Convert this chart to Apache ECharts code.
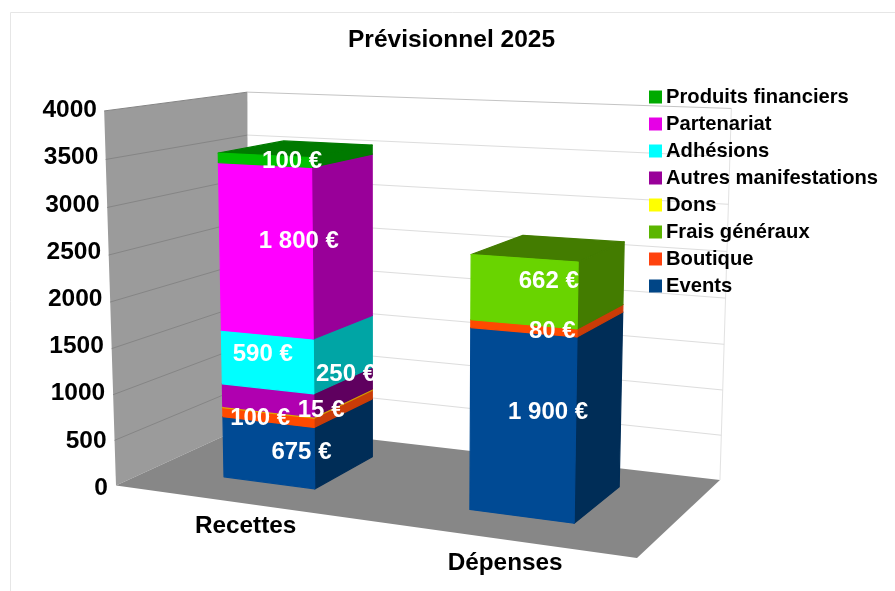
<!DOCTYPE html>
<html>
<head>
<meta charset="utf-8">
<style>
  html, body { margin: 0; padding: 0; background: #fff; }
  #chart { width: 895px; height: 591px; }
</style>
<script src="https://cdn.jsdelivr.net/npm/echarts@6/dist/echarts.min.js"></script>
</head>
<body>
<div id="chart"></div>
<script>
const categories = ["Recettes", "Dépenses"];
const yTicks = [0, 500, 1000, 1500, 2000, 2500, 3000, 3500, 4000];

const eventsValues = [675, 1900];
const boutiqueValues = [100, 80];
const fraisValues = [0, 662];
const donsValues = [15, 0];
const autresValues = [250, 0];
const adhesionsValues = [590, 0];
const partenariatValues = [1800, 0];
const produitsValues = [100, 0];

// bottom to top, as stacked
const stacks = [
  { name: "Events", values: eventsValues, legend: "#004586", front: "#004a94", side: "#002d57", nudge: [[1, 15.5], [0, 3.5]] },
  { name: "Boutique", values: boutiqueValues, legend: "#ff420e", front: "#ff4a00", side: "#c93c08", nudge: [[-40, 15.5], [3, 16.5]] },
  { name: "Frais généraux", values: fraisValues, legend: "#5bb500", front: "#69d400", side: "#437c00", nudge: [[0, 0], [-1, 2]] },
  { name: "Dons", values: donsValues, legend: "#ffff00", front: "#e0a800", side: "#d09a00", nudge: [[21, 12.5], [0, 0]] },
  { name: "Autres manifestations", values: autresValues, legend: "#990099", front: "#b000b0", side: "#5f005f", nudge: [[46, -12], [0, 0]] },
  { name: "Adhésions", values: adhesionsValues, legend: "#00ffff", front: "#00ffff", side: "#00a5a5", nudge: [[-37, 6], [0, 0]] },
  { name: "Partenariat", values: partenariatValues, legend: "#e600e6", front: "#ff00ff", side: "#990099", nudge: [[0, 1], [0, 0]] },
  { name: "Produits financiers", values: produitsValues, legend: "#00aa00", front: "#00c000", side: "#007a00", nudge: [[-6, 8], [0, 0]] },
];

const fontFamily = "Liberation Sans";
const barShare = 0.385; // of the category band
const barDepth = [0.27, 0.76];

// u along the front edge, d into the depth, v up the wall, all 0..1
const project = (u, d, v) => {
  const w = -0.1345 * u + 0.1275 * d - 0.04 * v + 1;
  // small corrections on top of the perspective, fitted by eye
  const xFix = 5 * d * v * (1 - u) * (1 - u) - 2 * u * v;
  const yFix = 6 * u * v;
  return [
    (435.3 * u + 163.6 * d - 16 * v + 116) / w + xFix,
    (-2.55 * u - 6.3 * d - 379 * v + 485.5) / w + yFix,
  ];
};

const toUnit = (params, point) => {
  const g = params.coordSys;
  return [(point[0] - g.x) / g.width, (g.y + g.height - point[1]) / g.height];
};

const renderFrame = (params, api) => {
  const children = [];
  const poly = (points, fill) => ({ type: "polygon", shape: { points }, style: { fill } });
  const line = (a, b, stroke) => ({
    type: "line",
    shape: { x1: a[0], y1: a[1], x2: b[0], y2: b[1] },
    style: { stroke, lineWidth: 1 },
  });
  children.push(poly([project(0, 0, 0), project(0, 1, 0), project(0, 1, 1), project(0, 0, 1)], "#9b9b9b"));
  children.push(poly([project(0, 0, 0), project(1, 0, 0), project(1, 1, 0), project(0, 1, 0)], "#878787"));
  children.push(line(project(1, 1, 0), project(1, 1, 1), "#e2e2e2"));
  yTicks.forEach((tick) => {
    if (tick === 0) return;
    const v = toUnit(params, api.coord([0, tick]))[1];
    children.push(line(project(0, 0, v), project(0, 1, v), "#858585"));
    children.push(line(project(0, 1, v), project(1, 1, v), tick === 4000 ? "#c4c4c4" : "#dddddd"));
  });
  categories.forEach((name, i) => {
    const u = toUnit(params, api.coord([i, 0]))[0];
    const p = project(u, 0, 0);
    children.push({
      type: "text",
      x: p[0] + 13,
      y: p[1] + 25,
      style: { text: name, fill: "#000", fontFamily, fontSize: 24.3, fontWeight: "bold", align: "center", verticalAlign: "middle" },
    });
  });
  return { type: "group", children };
};

const formatLabel = (value) => String(value).replace(/\B(?=(\d{3})+$)/g, " ") + " €";

const renderSegment = (stack) => (params, api) => {
  const cat = api.value(0);
  const low = api.coord([cat, api.value(1)]);
  const high = api.coord([cat, api.value(2)]);
  const half = (api.size([1, 0])[0] * barShare) / 2 / params.coordSys.width;
  const u = toUnit(params, low)[0];
  const v0 = toUnit(params, low)[1];
  const v1 = toUnit(params, high)[1];
  const [l, r] = [u - half, u + half];
  const [d0, d1] = barDepth;
  const face = (points, fill) => ({
    type: "polygon",
    shape: { points },
    style: { fill, stroke: fill, lineWidth: 1.2, lineJoin: "round" },
  });
  const center = project(u, 0.525, (v0 + v1) / 2);
  const nudge = stack.nudge[cat];
  return {
    type: "group",
    children: [
      face([project(l, d0, v1), project(r, d0, v1), project(r, d1, v1), project(l, d1, v1)], stack.side),
      face([project(r, d0, v0), project(r, d1, v0), project(r, d1, v1), project(r, d0, v1)], stack.side),
      face([project(l, d0, v0), project(r, d0, v0), project(r, d0, v1), project(l, d0, v1)], stack.front),
      {
        type: "text",
        z2: 100,
        x: center[0] + nudge[0],
        y: center[1] + nudge[1],
        style: {
          text: formatLabel(api.value(2) - api.value(1)),
          fill: "#fff",
          fontFamily,
          fontSize: 24,
          fontWeight: "bold",
          align: "center",
          verticalAlign: "middle",
        },
      },
    ],
  };
};

const totals = categories.map(() => 0);
const segmentSeries = stacks.map((stack) => {
  const data = [];
  stack.values.forEach((value, i) => {
    if (value > 0) data.push([i, totals[i], totals[i] + value]);
    totals[i] += value;
  });
  return {
    type: "custom",
    name: stack.name,
    coordinateSystem: "cartesian2d",
    renderItem: renderSegment(stack),
    encode: { x: 0, y: [1, 2] },
    itemStyle: { color: stack.legend },
    data,
  };
});

const tickRich = {};
yTicks.forEach((tick) => {
  tickRich["t" + tick] = {
    fontFamily,
    fontSize: 24.5,
    fontWeight: "bold",
    color: "#000",
    padding: [5, (11 * tick) / 4000, 0, 0],
  };
});

const chart = echarts.init(document.getElementById("chart"));
chart.setOption({
  animation: false,
  backgroundColor: "#fff",
  title: {
    text: "Prévisionnel 2025",
    left: 348,
    top: 28,
    padding: 0,
    textStyle: { fontFamily, fontSize: 24.5, fontWeight: "bold", color: "#000" },
  },
  graphic: [
    {
      type: "polyline",
      silent: true,
      shape: { points: [[10.5, 591], [10.5, 12.5], [895, 12.5]] },
      style: { stroke: "#e6e6e6", lineWidth: 1, fill: null },
    },
  ],
  legend: {
    orient: "vertical",
    left: 649,
    top: 87,
    padding: 0,
    itemWidth: 13,
    itemHeight: 13,
    itemGap: 7,
    selectedMode: false,
    icon: "rect",
    data: stacks.map((s) => s.name).reverse(),
    textStyle: { fontFamily, fontSize: 20.2, fontWeight: "bold", color: "#000", padding: [0, 0, 0, -1] },
  },
  grid: { left: 116, top: 108, width: 521, height: 377.5 },
  xAxis: { type: "category", data: categories, show: false },
  yAxis: {
    type: "value",
    min: 0,
    max: 4000,
    interval: 500,
    axisLine: { show: false },
    axisTick: { show: false },
    splitLine: { show: false },
    axisLabel: {
      margin: 8,
      formatter: (value) => `{t${value}|${value}}`,
      rich: tickRich,
    },
  },
  series: [
    {
      type: "custom",
      name: "frame",
      coordinateSystem: "cartesian2d",
      silent: true,
      z: 1,
      renderItem: renderFrame,
      encode: { x: 0, y: 1 },
      data: [[0, 0]],
    },
    ...segmentSeries,
  ],
});
</script>
</body>
</html>
